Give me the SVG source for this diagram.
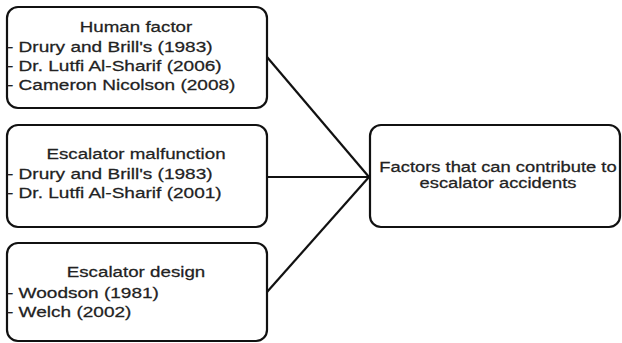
<svg xmlns="http://www.w3.org/2000/svg" width="622" height="343" viewBox="0 0 622 343">
<style>
.box{fill:#fff;stroke:#111;stroke-width:2.2}
.con{stroke:#111;stroke-width:2.2;fill:none}
text{font-family:"Liberation Sans",Arial,sans-serif;font-size:15px;fill:#222;stroke:#222;stroke-width:0.25}
.c{text-anchor:middle}
.s{font-size:14px}
</style>
<rect width="622" height="343" fill="#fff"/>
<g id="connectors">
<line class="con" x1="267" y1="57" x2="369" y2="177"/>
<line class="con" x1="267" y1="177" x2="369" y2="177"/>
<line class="con" x1="267" y1="292" x2="369" y2="177"/>
</g>
<g id="human-factor">
<rect class="box" x="7" y="7" width="260" height="101" rx="11"/>
<text class="c" transform="translate(136,32) scale(1.25,1)">Human factor</text>
<text transform="translate(7,52) scale(1.27,1)">- Drury and Brill's (1983)</text>
<text transform="translate(7,71) scale(1.27,1)">- Dr. Lutfi Al-Sharif (2006)</text>
<text transform="translate(7,90) scale(1.27,1)">- Cameron Nicolson (2008)</text>
</g>
<g id="escalator-malfunction">
<rect class="box" x="7" y="125" width="260" height="102" rx="11"/>
<text class="c" transform="translate(136,159) scale(1.25,1)">Escalator malfunction</text>
<text transform="translate(7,179) scale(1.27,1)">- Drury and Brill's (1983)</text>
<text transform="translate(7,198) scale(1.27,1)">- Dr. Lutfi Al-Sharif (2001)</text>
</g>
<g id="escalator-design">
<rect class="box" x="7" y="243" width="260" height="98" rx="11"/>
<text class="c" transform="translate(136,277) scale(1.25,1)">Escalator design</text>
<text transform="translate(7,298) scale(1.27,1)">- Woodson (1981)</text>
<text transform="translate(7,317) scale(1.27,1)">- Welch (2002)</text>
</g>
<g id="factors">
<rect class="box" x="370" y="125" width="250" height="102" rx="11"/>
<text class="c s" transform="translate(498,172) scale(1.31,1)">Factors that can contribute to</text>
<text class="c s" transform="translate(498,188) scale(1.31,1)">escalator accidents</text>
</g>
</svg>
